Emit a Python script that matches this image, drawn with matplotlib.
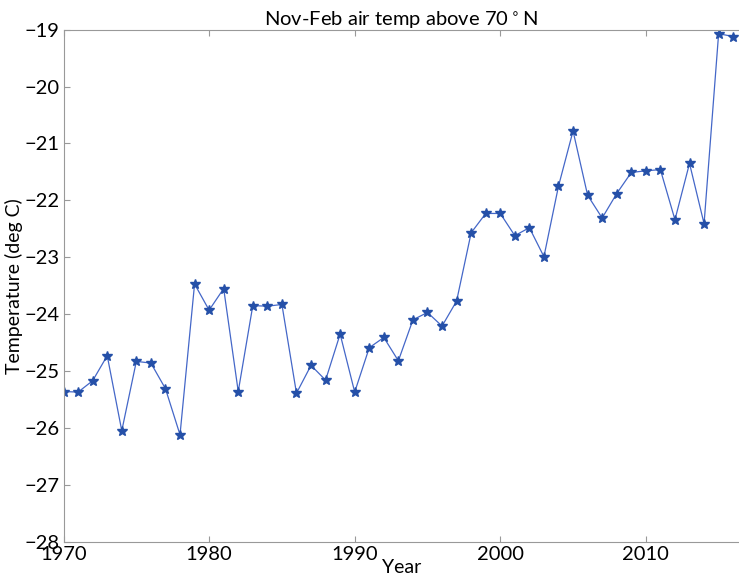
import numpy as np
import matplotlib
matplotlib.use("Agg")
import matplotlib.pyplot as plt

plt.rcParams['font.family'] = ['Lato', 'DejaVu Sans']

years = np.arange(1970, 2017)
temps = [
    -25.36, -25.37, -25.17, -24.73, -26.05, -24.83, -24.86, -25.31, -26.12, -23.47,
    -23.93, -23.55, -25.36, -23.85, -23.86, -23.83, -25.39, -24.90, -25.16, -24.35,
    -25.37, -24.59, -24.41, -24.82, -24.10, -23.97, -24.21, -23.77, -22.57, -22.23,
    -22.23, -22.62, -22.48, -22.99, -21.75, -20.78, -21.91, -22.31, -21.88, -21.51,
    -21.48, -21.46, -22.34, -21.35, -22.41, -19.07, -19.12,
]

fig = plt.figure(figsize=(7.39, 5.79), dpi=100)
ax = fig.add_axes([0.086, 0.0644, 0.914, 0.8843])

ax.plot(years, temps, '-', color='#4467c8', lw=0.9,
        marker='*', ms=7, mfc='#2550a8', mec='#2550a8')

ax.set_xlim(1970, 2016.4)
ax.set_ylim(-28, -19)
ax.set_xticks([1970, 1980, 1990, 2000, 2010])
ax.set_yticks(np.arange(-28, -18))

for s in ax.spines.values():
    s.set_color('#999999')
ax.spines['right'].set_visible(False)
ax.tick_params(direction='in', length=4, color='#999999', labelsize=14.5,
               top=True, pad=3)

ax.set_title('Nov-Feb air temp above 70$^\\circ$N', fontsize=14.5, pad=3)
ax.set_xlabel('Year', fontsize=14, labelpad=-3)
ax.set_ylabel('Temperature (deg C)', fontsize=14, labelpad=1)

fig.savefig('out.png', dpi=100)
